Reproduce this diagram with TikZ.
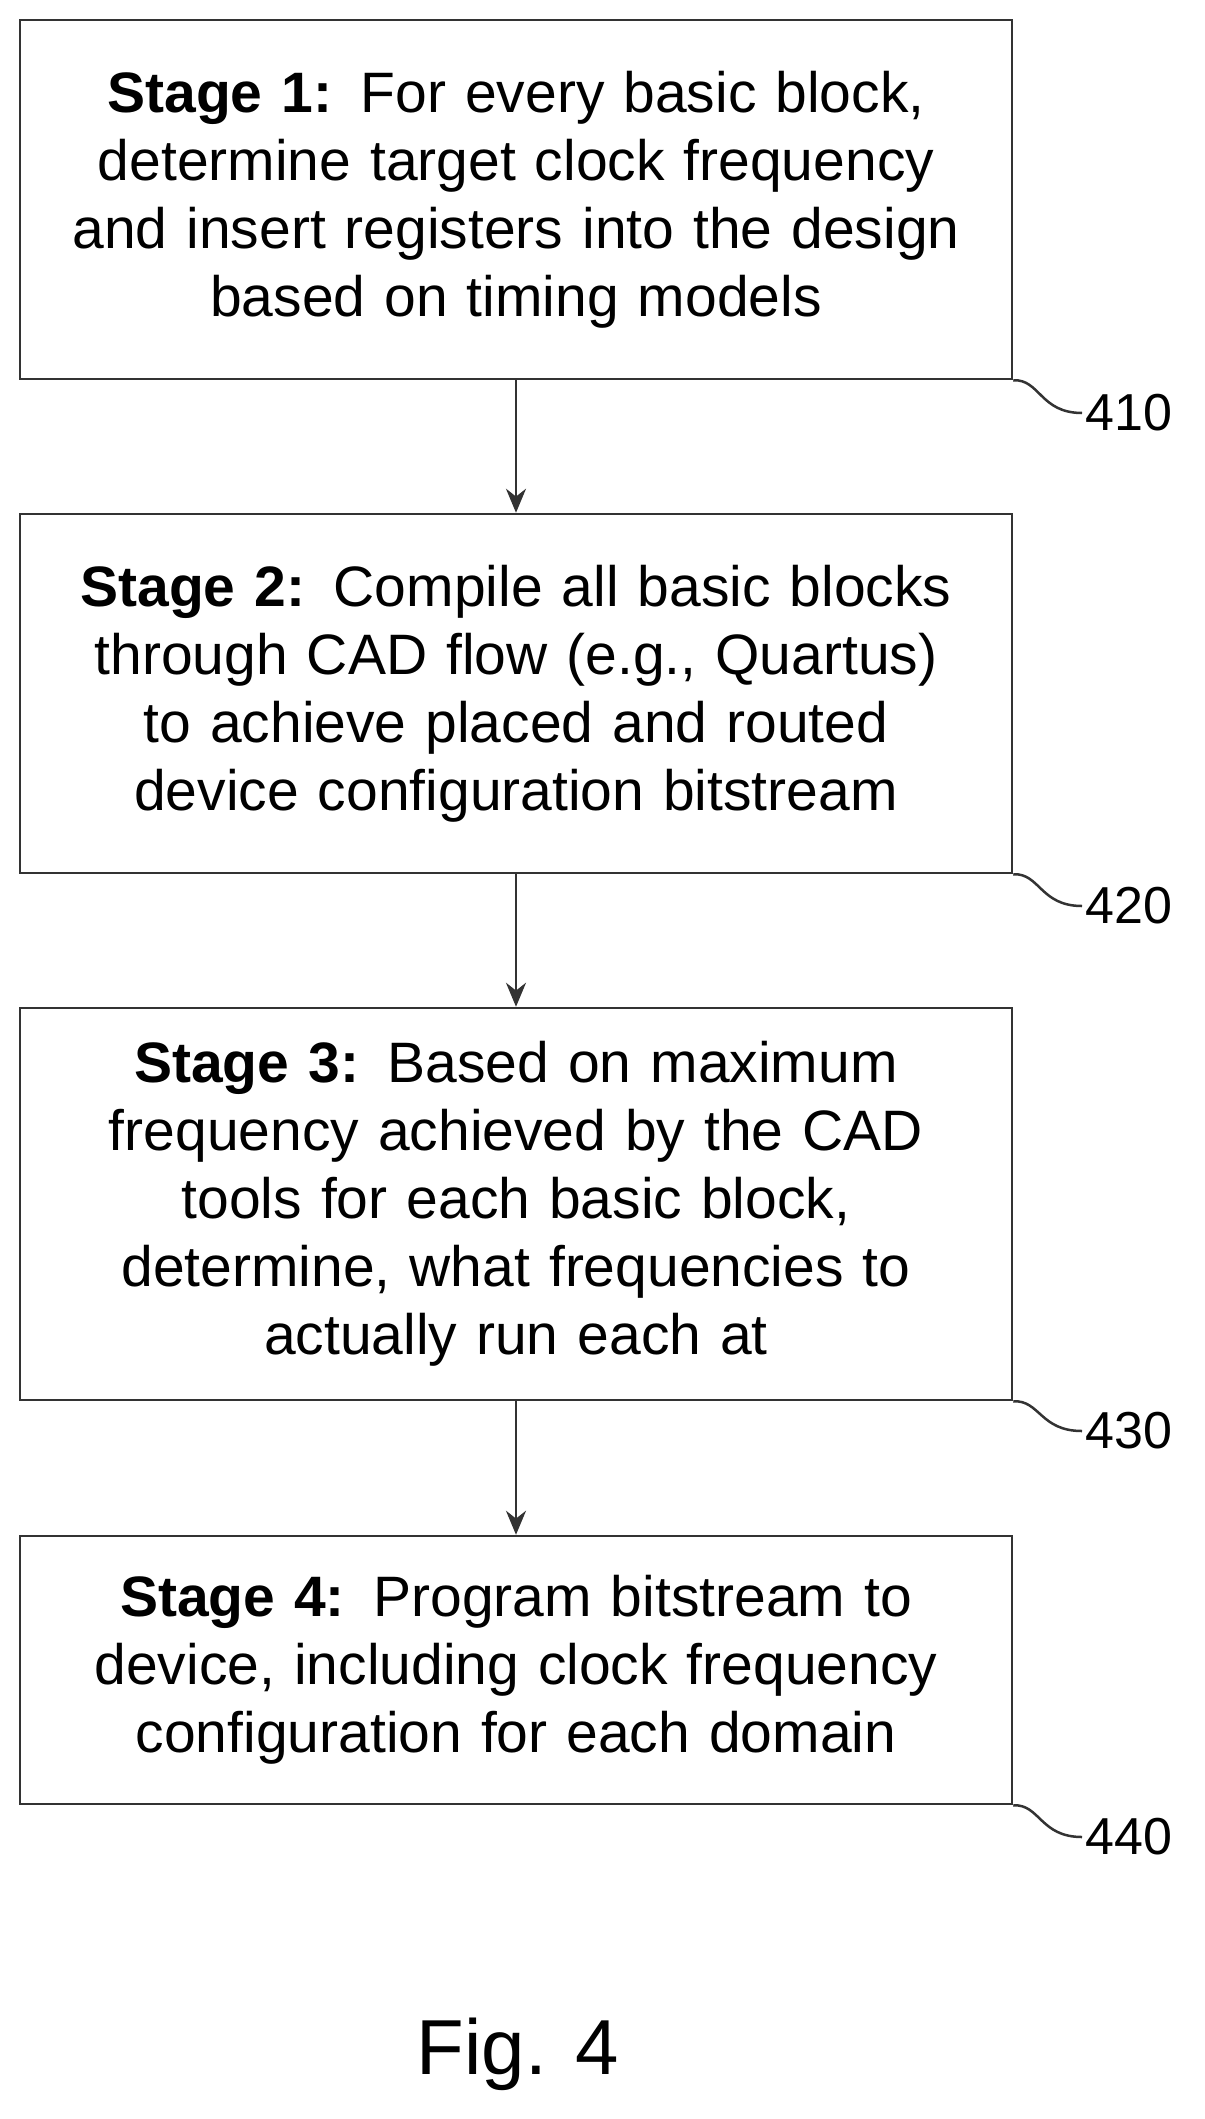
\documentclass[tikz,border=0pt]{standalone}
\usepackage{fontspec}
\setmainfont{Liberation Sans}
\usetikzlibrary{arrows.meta}
\begin{document}
\begin{tikzpicture}[x=1pt,y=-1pt,
  stagebox/.style={draw=black!80,line width=2.5pt,minimum width=992pt,text width=980pt,align=center,inner sep=0pt,
    font=\fontsize{57}{68}\selectfont},
  lbl/.style={font=\fontsize{52}{56}\selectfont,anchor=west},
  flow/.style={line width=2.5pt,draw=black!80,-{Stealth[length=24pt,width=20pt]}},
  lead/.style={line width=2.5pt,draw=black!80}]
\useasboundingbox (0,0) rectangle (1204,2119);
\node[stagebox,minimum height=359pt] (s1) at (516,199.5) {\textbf{Stage 1:} For every basic block,\\ determine target clock frequency\\ and insert registers into the design\\ based on timing models};
\node[stagebox,minimum height=359pt] (s2) at (516,693.5) {\textbf{Stage 2:} Compile all basic blocks\\ through CAD flow (e.g., Quartus)\\ to achieve placed and routed\\ device configuration bitstream};
\node[stagebox,minimum height=392pt] (s3) at (516,1204) {\textbf{Stage 3:} Based on maximum\\ frequency achieved by the CAD\\ tools for each basic block,\\ determine, what frequencies to\\ actually run each at};
\node[stagebox,minimum height=268pt] (s4) at (516,1670) {\textbf{Stage 4:} Program bitstream to\\ device, including clock frequency\\ configuration for each domain};
\draw[flow] (s1) -- (s2);
\draw[flow] (s2) -- (s3);
\draw[flow] (s3) -- (s4);
\node[lbl] (l1) at (1082,413) {410};
\node[lbl] (l2) at (1082,906) {420};
\node[lbl] (l3) at (1082,1431) {430};
\node[lbl] (l4) at (1082,1837) {440};
\draw[lead] (s1.south east) .. controls (1040,379) and (1040,413) .. (l1.west);
\draw[lead] (s2.south east) .. controls (1040,873) and (1040,906) .. (l2.west);
\draw[lead] (s3.south east) .. controls (1040,1400) and (1040,1431) .. (l3.west);
\draw[lead] (s4.south east) .. controls (1040,1804) and (1040,1837) .. (l4.west);
\node[font=\fontsize{78}{80}\selectfont] (fig) at (518,2054) {Fig. 4};
\end{tikzpicture}
\end{document}
